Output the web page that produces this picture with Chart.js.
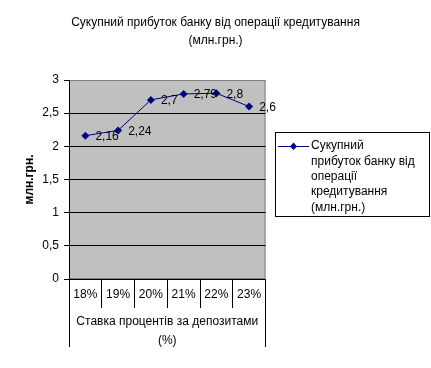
<!DOCTYPE html>
<html>
<head>
<meta charset="utf-8">
<script src="https://cdn.jsdelivr.net/npm/chart.js@4.4.0/dist/chart.umd.min.js"></script>
<style>
  html, body { margin: 0; padding: 0; background: #fff; }
  canvas { display: block; }
</style>
</head>
<body>
<canvas id="chart" width="431" height="368"></canvas>
<script>
// data
const categories = ['18%', '19%', '20%', '21%', '22%', '23%'];
const profit = [2.16, 2.24, 2.7, 2.79, 2.8, 2.6];
const seriesName = 'Сукупний прибуток банку від операції кредитування (млн.грн.)';
const legendLines = ['Сукупний', 'прибуток банку від', 'операції', 'кредитування', '(млн.грн.)'];
const titleLines = ['Сукупний прибуток банку від операції кредитування', '(млн.грн.)'];
const xTitleLines = ['Ставка процентів за депозитами', '(%)'];
const yTitle = 'млн.грн.';

const FONT = '"Liberation Sans", Arial, sans-serif';
const comma = v => String(v).replace('.', ',');

// grey plot area with grey frame (grid drawn over it)
const plotBg = {
  id: 'plotBg',
  beforeDraw(chart) {
    const a = chart.chartArea, ctx = chart.ctx;
    ctx.save();
    ctx.fillStyle = '#c0c0c0';
    ctx.fillRect(a.left, a.top, a.right - a.left, a.bottom - a.top);
    ctx.strokeStyle = '#808080';
    ctx.lineWidth = 1;
    ctx.strokeRect(a.left + 0.5, a.top + 0.5, a.right - a.left - 1, a.bottom - a.top - 1);
    ctx.restore();
  }
};

// long outer lines of the category table, value labels, legend
const extras = {
  id: 'extras',
  afterDraw(chart) {
    const ctx = chart.ctx, a = chart.chartArea;
    ctx.save();
    ctx.strokeStyle = '#000';
    ctx.lineWidth = 1;
    ctx.beginPath();
    ctx.moveTo(Math.round(a.left) + 0.5, a.bottom);
    ctx.lineTo(Math.round(a.left) + 0.5, a.bottom + 68);
    ctx.moveTo(Math.round(a.right) - 0.5, a.bottom);
    ctx.lineTo(Math.round(a.right) - 0.5, a.bottom + 68);
    ctx.stroke();

    ctx.fillStyle = '#000';
    ctx.font = '12px ' + FONT;
    ctx.textBaseline = 'middle';
    ctx.textAlign = 'left';
    chart.getDatasetMeta(0).data.forEach((pt, i) => {
      ctx.fillText(comma(profit[i]), pt.x + 10, pt.y + 1);
    });

    // legend
    const lx = 275.5, ly = 132.5, lw = 154, lh = 84;
    ctx.strokeRect(lx, ly, lw, lh);
    const my = 146;
    ctx.strokeStyle = '#000080';
    ctx.beginPath();
    ctx.moveTo(278, my + 0.5);
    ctx.lineTo(309, my + 0.5);
    ctx.stroke();
    ctx.fillStyle = '#000080';
    ctx.beginPath();
    ctx.moveTo(293.5, my - 3.5);
    ctx.lineTo(297, my + 0.5);
    ctx.lineTo(293.5, my + 4);
    ctx.lineTo(290, my + 0.5);
    ctx.closePath();
    ctx.fill();
    ctx.fillStyle = '#000';
    legendLines.forEach((t, i) => ctx.fillText(t, 311, my + i * 15.3));
    ctx.restore();
  }
};

new Chart(document.getElementById('chart'), {
  type: 'line',
  data: {
    labels: categories,
    datasets: [{
      label: seriesName,
      data: profit,
      borderColor: '#000080',
      backgroundColor: '#000080',
      borderWidth: 1,
      pointStyle: 'rectRot',
      pointRadius: 4,
      pointBorderWidth: 0,
      tension: 0
    }]
  },
  options: {
    responsive: false,
    animation: false,
    devicePixelRatio: 1,
    layout: { padding: 0 },
    plugins: {
      legend: { display: false },
      tooltip: { enabled: false },
      title: {
        display: true,
        text: titleLines,
        color: '#000',
        font: { family: FONT, size: 12, weight: 'normal', lineHeight: 1.5 },
        padding: { top: 14, bottom: 30 }
      }
    },
    scales: {
      x: {
        type: 'category',
        offset: true,
        afterFit: s => { s.height = 89; },
        grid: {
          offset: true,
          drawOnChartArea: false,
          drawTicks: true,
          tickLength: 29,
          color: '#000'
        },
        border: { display: true, color: '#000' },
        ticks: {
          color: '#000',
          padding: -21,
          maxRotation: 0,
          font: { family: FONT, size: 12 }
        },
        title: {
          display: true,
          text: xTitleLines,
          color: '#000',
          font: { family: FONT, size: 12, lineHeight: '19px' },
          padding: { top: 0, bottom: 17.5 }
        }
      },
      y: {
        min: 0,
        max: 3,
        afterFit: s => { s.width = 69; },
        grid: {
          color: c => (c.tick && c.tick.value === 3 ? '#808080' : '#000'),
          tickColor: '#000',
          tickLength: 5
        },
        border: { display: true, color: '#000' },
        ticks: {
          stepSize: 0.5,
          color: '#000',
          padding: 5,
          font: { family: FONT, size: 12 },
          callback: v => comma(v)
        },
        title: {
          display: true,
          text: yTitle,
          color: '#000',
          font: { family: FONT, size: 12, weight: 'bold' },
          padding: { top: 22, bottom: 0 }
        }
      },
      yRight: {
        position: 'right',
        display: true,
        afterFit: s => { s.width = 165.5; },
        grid: { display: false },
        border: { display: false },
        ticks: { display: false }
      }
    }
  },
  plugins: [plotBg, extras]
});
</script>
</body>
</html>
